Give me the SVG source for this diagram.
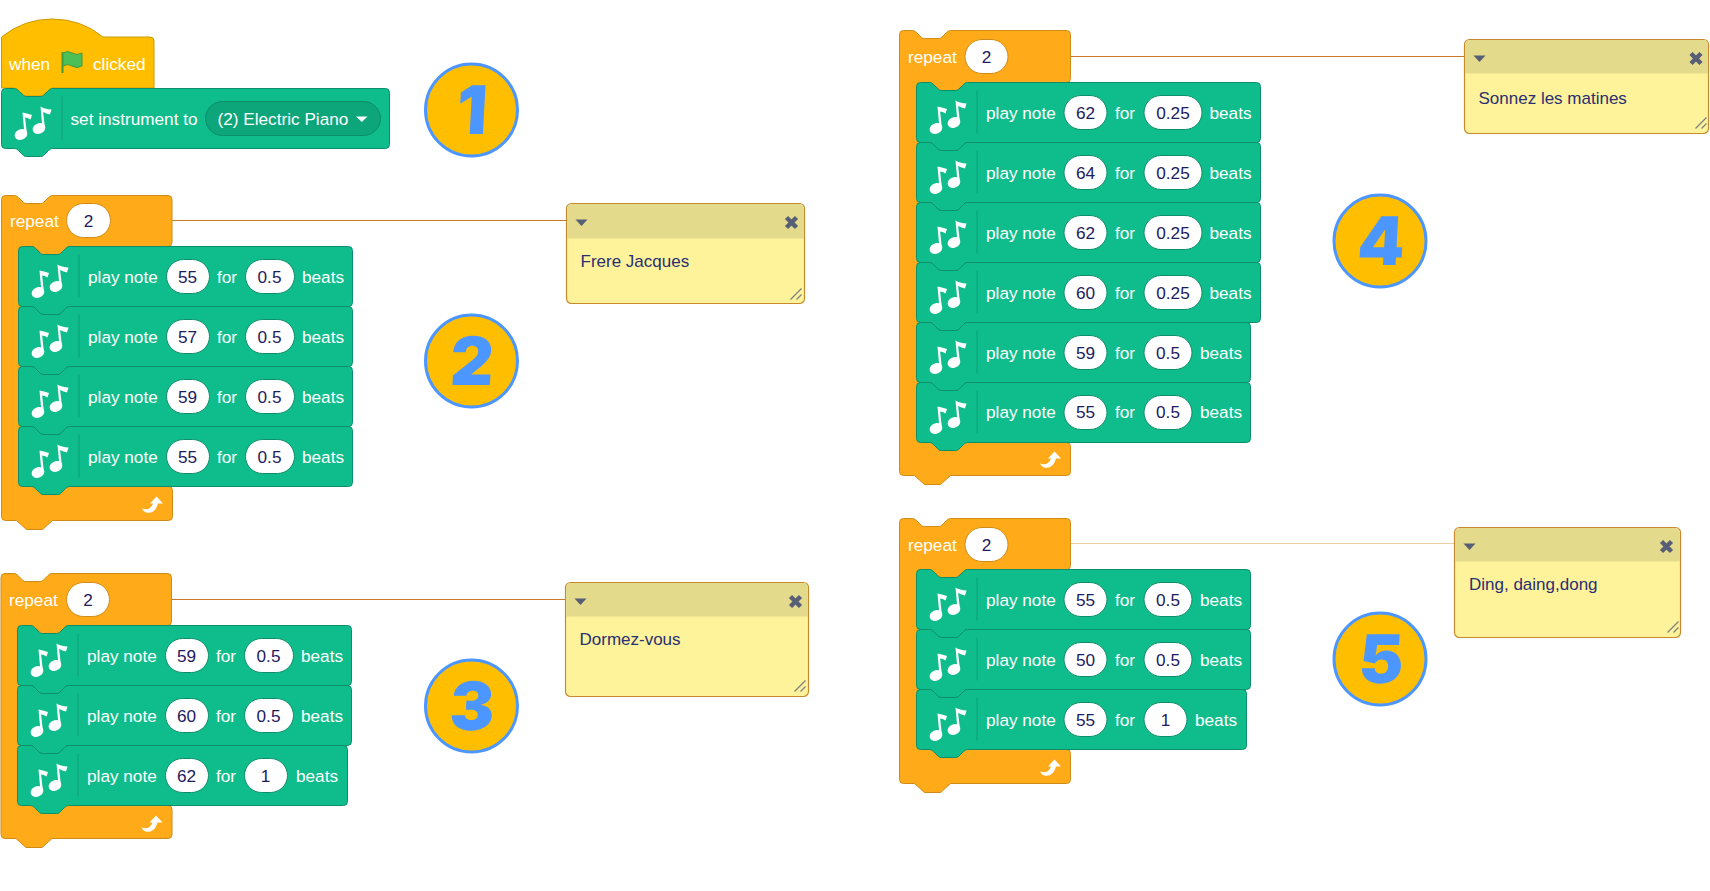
<svg xmlns="http://www.w3.org/2000/svg" width="1710" height="891" viewBox="0 0 1710 891">
<style>
text{font-family:"Liberation Sans",Arial,sans-serif}
.w{fill:#fff;font-size:17.2px}
.n{fill:#1d2060;font-size:17.2px;text-anchor:middle}
.g{fill:#0FBD8C;stroke:#0B8E69;stroke-width:1}
.o{fill:#FFAB19;stroke:#CF8B17;stroke-width:1}
.p{fill:#fff;stroke:#0B8E69;stroke-width:1}
.po{fill:#fff;stroke:#CF8B17;stroke-width:1}
.cb{fill:#FEF39A;stroke:#C98A2E;stroke-width:1.2}
.ch{fill:#E3DA8C}
.ct{fill:#2a2f72;font-size:17px}
.cm{fill:#575E75}
.cx{stroke:#575E75;stroke-width:4.5;fill:none}
.cr{stroke:#808080;stroke-width:1.3;fill:none}
.c{fill:#FFBF00;stroke:#4C97FF;stroke-width:3}
.d{fill:#4C97FF;font-family:Inter,"Liberation Sans",sans-serif;font-weight:900;font-size:67px;text-anchor:middle}
.l{stroke:#C87A28;stroke-width:1;fill:none}
</style>
<defs>
<path id="row334" class="g" d="M0,4 Q0,0 4,0 H13 Q15,0 17,2 L22,7 Q23,8 25,8 H39 Q41,8 42,7 L47,2 Q49,0 51,0 H330 Q334,0 334,4 V56 Q334,60 330,60 H51 Q49,60 47,62 L42,67 Q41,68 39,68 H25 Q23,68 22,67 L17,62 Q15,60 13,60 H4 Q0,60 0,56 Z"/>
<path id="row344" class="g" d="M0,4 Q0,0 4,0 H13 Q15,0 17,2 L22,7 Q23,8 25,8 H39 Q41,8 42,7 L47,2 Q49,0 51,0 H340 Q344,0 344,4 V56 Q344,60 340,60 H51 Q49,60 47,62 L42,67 Q41,68 39,68 H25 Q23,68 22,67 L17,62 Q15,60 13,60 H4 Q0,60 0,56 Z"/>
<path id="row330" class="g" d="M0,4 Q0,0 4,0 H13 Q15,0 17,2 L22,7 Q23,8 25,8 H39 Q41,8 42,7 L47,2 Q49,0 51,0 H326 Q330,0 330,4 V56 Q330,60 326,60 H51 Q49,60 47,62 L42,67 Q41,68 39,68 H25 Q23,68 22,67 L17,62 Q15,60 13,60 H4 Q0,60 0,56 Z"/>
<g id="notes">
<path d="M60.500,8 V51" stroke="#0C9E76" stroke-width="1" fill="none"/>
<g fill="#fff">
<ellipse cx="19.500" cy="46" rx="6.500" ry="5.200" transform="rotate(-22 19.500 46)"/>
<path d="M21,24 Q25,24.500 30.500,26.500 L29,31 Q26,29 23.600,29 L25.500,46 L23,46 Z"/>
<ellipse cx="37.500" cy="40" rx="6.500" ry="5.200" transform="rotate(-22 37.500 40)"/>
<path d="M39,18 Q43,20.500 50,21 L48.500,26 Q45,25 41.600,23.500 L43.500,40 L41,40 Z"/>
</g>
</g>
<path id="loop" fill="#fff" d="M-1,12 Q7,15 10,7 L7,7 L13.500,0 L20,7 L15,7 Q12,18 3,16 Q0,15 -1,12 Z"/>
<path id="cmark" class="cm" d="M0,0 H12 L6,6.500 Z"/>
</defs>

<g id="connectors">
<line class="l" x1="172" y1="220.500" x2="566" y2="220.500"/>
<line class="l" x1="172" y1="599.500" x2="565" y2="599.500"/>
<line class="l" x1="1071" y1="56.500" x2="1464" y2="56.500"/>
<line class="l" x1="1071" y1="543.500" x2="1454" y2="543.500" style="stroke:#EBCF9E"/>
</g>

<g id="stack1">
<g id="when-clicked">
<path d="M1.500,37 Q24,19 52,19 Q81,19 103,37 H150 Q154,37 154,41 V88 H52 L42,96 H25 L15,88 H1.500 Z" fill="#FFBF00" stroke="#CC9900" stroke-width="1"/>
<text class="w" x="9" y="70">when</text>
<path d="M62.500,52 V73" stroke="#45993D" stroke-width="2" fill="none"/>
<path d="M63,53 Q68,50 72,53 Q77,56 82,53 V66 Q77,69 72,66 Q68,63 63,66 Z" fill="#4CBF56" stroke="#45993D" stroke-width="1"/>
<text class="w" x="93" y="70">clicked</text>
</g>
<g id="set-instrument" transform="translate(1.500,88.500)">
<path class="g" d="M0,4 Q0,0 4,0 H13 Q15,0 17,2 L22,7 Q23,8 25,8 H39 Q41,8 42,7 L47,2 Q49,0 51,0 H384 Q388,0 388,4 V56 Q388,60 384,60 H51 Q49,60 47,62 L42,67 Q41,68 39,68 H25 Q23,68 22,67 L17,62 Q15,60 13,60 H4 Q0,60 0,56 Z"/>
<use href="#notes"/>
<text class="w" x="69" y="36">set instrument to</text>
<rect x="204" y="13" width="175" height="34" rx="17" fill="#0DA57A" stroke="#0B8E69"/>
<text class="w" x="216" y="36">(2) Electric Piano</text>
<path d="M354.500,28 H366 L360.300,33.500 Z" fill="#fff"/>
</g>
</g>

<g id="stack2">
<g id="repeat2" transform="translate(1.500,195.500)">
<path class="o" d="M0,4 Q0,0 4,0 H13 Q15,0 17,2 L22,7 Q23,8 25,8 H39 Q41,8 42,7 L47,2 Q49,0 51,0 H166.500 Q170.500,0 170.500,4 V47 Q170.500,51 166.500,51 H67.500 L57.500,59 H41.500 L32.500,51 H23 V291 H167 Q171,291 171,295 V321 Q171,325 167,325 H51 L41,334 H25 L15,325 H4 Q0,325 0,321 Z"/>
<text class="w" x="8.500" y="31.500">repeat</text>
<rect class="po" x="65" y="8" width="44" height="34" rx="17"/>
<text class="n" x="87" y="31">2</text>
<use href="#loop" x="141.500" y="301"/>
</g>
<g id="n2a" transform="translate(18.500,246.500)"><use href="#row334"/><use href="#notes"/><text class="w" x="69.500" y="36">play note</text><rect class="p" x="148" y="13" width="43" height="34" rx="17"/><text class="n" x="169" y="36">55</text><text class="w" x="198.500" y="36">for</text><rect class="p" x="227" y="13" width="49" height="34" rx="17"/><text class="n" x="251" y="36">0.5</text><text class="w" x="283.500" y="36">beats</text></g>
<g id="n2b" transform="translate(18.500,306.500)"><use href="#row334"/><use href="#notes"/><text class="w" x="69.500" y="36">play note</text><rect class="p" x="148" y="13" width="43" height="34" rx="17"/><text class="n" x="169" y="36">57</text><text class="w" x="198.500" y="36">for</text><rect class="p" x="227" y="13" width="49" height="34" rx="17"/><text class="n" x="251" y="36">0.5</text><text class="w" x="283.500" y="36">beats</text></g>
<g id="n2c" transform="translate(18.500,366.500)"><use href="#row334"/><use href="#notes"/><text class="w" x="69.500" y="36">play note</text><rect class="p" x="148" y="13" width="43" height="34" rx="17"/><text class="n" x="169" y="36">59</text><text class="w" x="198.500" y="36">for</text><rect class="p" x="227" y="13" width="49" height="34" rx="17"/><text class="n" x="251" y="36">0.5</text><text class="w" x="283.500" y="36">beats</text></g>
<g id="n2d" transform="translate(18.500,426.500)"><use href="#row334"/><use href="#notes"/><text class="w" x="69.500" y="36">play note</text><rect class="p" x="148" y="13" width="43" height="34" rx="17"/><text class="n" x="169" y="36">55</text><text class="w" x="198.500" y="36">for</text><rect class="p" x="227" y="13" width="49" height="34" rx="17"/><text class="n" x="251" y="36">0.5</text><text class="w" x="283.500" y="36">beats</text></g>
</g>

<g id="stack3">
<g id="repeat3" transform="translate(1,573.500)">
<path class="o" d="M0,4 Q0,0 4,0 H13 Q15,0 17,2 L22,7 Q23,8 25,8 H39 Q41,8 42,7 L47,2 Q49,0 51,0 H166.500 Q170.500,0 170.500,4 V48 Q170.500,52 166.500,52 H67 L57,60 H41 L32,52 H23 V232 H167 Q171,232 171,236 V261 Q171,265 167,265 H51 L41,274 H25 L15,265 H4 Q0,265 0,261 Z"/>
<text class="w" x="8" y="32">repeat</text>
<rect class="po" x="65.500" y="9" width="43" height="34" rx="17"/>
<text class="n" x="87" y="32">2</text>
<use href="#loop" x="141.500" y="242"/>
</g>
<g id="n3a" transform="translate(17.500,625.500)"><use href="#row334"/><use href="#notes"/><text class="w" x="69.500" y="36">play note</text><rect class="p" x="148" y="13" width="43" height="34" rx="17"/><text class="n" x="169" y="36">59</text><text class="w" x="198.500" y="36">for</text><rect class="p" x="227" y="13" width="49" height="34" rx="17"/><text class="n" x="251" y="36">0.5</text><text class="w" x="283.500" y="36">beats</text></g>
<g id="n3b" transform="translate(17.500,685.500)"><use href="#row334"/><use href="#notes"/><text class="w" x="69.500" y="36">play note</text><rect class="p" x="148" y="13" width="43" height="34" rx="17"/><text class="n" x="169" y="36">60</text><text class="w" x="198.500" y="36">for</text><rect class="p" x="227" y="13" width="49" height="34" rx="17"/><text class="n" x="251" y="36">0.5</text><text class="w" x="283.500" y="36">beats</text></g>
<g id="n3c" transform="translate(17.500,745.500)"><use href="#row330"/><use href="#notes"/><text class="w" x="69.500" y="36">play note</text><rect class="p" x="148" y="13" width="43" height="34" rx="17"/><text class="n" x="169" y="36">62</text><text class="w" x="198.500" y="36">for</text><rect class="p" x="227" y="13" width="43" height="34" rx="17"/><text class="n" x="248" y="36">1</text><text class="w" x="278.500" y="36">beats</text></g>
</g>

<g id="stack4">
<g id="repeat4" transform="translate(899.500,30.500)">
<path class="o" d="M0,4 Q0,0 4,0 H13 Q15,0 17,2 L22,7 Q23,8 25,8 H39 Q41,8 42,7 L47,2 Q49,0 51,0 H167 Q171,0 171,4 V48 Q171,52 167,52 H67 L57,60 H41 L32,52 H23 V412 H167 Q171,412 171,416 V441 Q171,445 167,445 H51 L41,454 H25 L15,445 H4 Q0,445 0,441 Z"/>
<text class="w" x="8.500" y="32">repeat</text>
<rect class="po" x="65.500" y="9" width="43" height="34" rx="17"/>
<text class="n" x="87" y="32">2</text>
<use href="#loop" x="141.500" y="421"/>
</g>
<g id="n4a" transform="translate(916.500,82.500)"><use href="#row344"/><use href="#notes"/><text class="w" x="69.500" y="36">play note</text><rect class="p" x="147.500" y="13" width="43" height="34" rx="17"/><text class="n" x="169" y="36">62</text><text class="w" x="198.500" y="36">for</text><rect class="p" x="227.500" y="13" width="58" height="34" rx="17"/><text class="n" x="256.500" y="36">0.25</text><text class="w" x="293" y="36">beats</text></g>
<g id="n4b" transform="translate(916.500,142.500)"><use href="#row344"/><use href="#notes"/><text class="w" x="69.500" y="36">play note</text><rect class="p" x="147.500" y="13" width="43" height="34" rx="17"/><text class="n" x="169" y="36">64</text><text class="w" x="198.500" y="36">for</text><rect class="p" x="227.500" y="13" width="58" height="34" rx="17"/><text class="n" x="256.500" y="36">0.25</text><text class="w" x="293" y="36">beats</text></g>
<g id="n4c" transform="translate(916.500,202.500)"><use href="#row344"/><use href="#notes"/><text class="w" x="69.500" y="36">play note</text><rect class="p" x="147.500" y="13" width="43" height="34" rx="17"/><text class="n" x="169" y="36">62</text><text class="w" x="198.500" y="36">for</text><rect class="p" x="227.500" y="13" width="58" height="34" rx="17"/><text class="n" x="256.500" y="36">0.25</text><text class="w" x="293" y="36">beats</text></g>
<g id="n4d" transform="translate(916.500,262.500)"><use href="#row344"/><use href="#notes"/><text class="w" x="69.500" y="36">play note</text><rect class="p" x="147.500" y="13" width="43" height="34" rx="17"/><text class="n" x="169" y="36">60</text><text class="w" x="198.500" y="36">for</text><rect class="p" x="227.500" y="13" width="58" height="34" rx="17"/><text class="n" x="256.500" y="36">0.25</text><text class="w" x="293" y="36">beats</text></g>
<g id="n4e" transform="translate(916.500,322.500)"><use href="#row334"/><use href="#notes"/><text class="w" x="69.500" y="36">play note</text><rect class="p" x="147.500" y="13" width="43" height="34" rx="17"/><text class="n" x="169" y="36">59</text><text class="w" x="198.500" y="36">for</text><rect class="p" x="227.500" y="13" width="48" height="34" rx="17"/><text class="n" x="251.500" y="36">0.5</text><text class="w" x="283.500" y="36">beats</text></g>
<g id="n4f" transform="translate(916.500,382.500)"><use href="#row334"/><use href="#notes"/><text class="w" x="69.500" y="35.500">play note</text><rect class="p" x="147.500" y="13" width="43" height="34" rx="17"/><text class="n" x="169" y="35.500">55</text><text class="w" x="198.500" y="35.500">for</text><rect class="p" x="227.500" y="13" width="48" height="34" rx="17"/><text class="n" x="251.500" y="35.500">0.5</text><text class="w" x="283.500" y="35.500">beats</text></g>
</g>

<g id="stack5">
<g id="repeat5" transform="translate(899.500,518.500)">
<path class="o" d="M0,4 Q0,0 4,0 H13 Q15,0 17,2 L22,7 Q23,8 25,8 H39 Q41,8 42,7 L47,2 Q49,0 51,0 H167 Q171,0 171,4 V47 Q171,51 167,51 H66.500 L56.500,59 H40.500 L31.500,51 H23 V231 H167 Q171,231 171,235 V261 Q171,265 167,265 H51 L41,274 H25 L15,265 H4 Q0,265 0,261 Z"/>
<text class="w" x="8.500" y="32">repeat</text>
<rect class="po" x="65.500" y="9" width="43" height="34" rx="17"/>
<text class="n" x="87" y="32">2</text>
<use href="#loop" x="141.500" y="241"/>
</g>
<g id="n5a" transform="translate(916.500,569.500)"><use href="#row334"/><use href="#notes"/><text class="w" x="69.500" y="36">play note</text><rect class="p" x="147.500" y="13" width="43" height="34" rx="17"/><text class="n" x="169" y="36">55</text><text class="w" x="198.500" y="36">for</text><rect class="p" x="227.500" y="13" width="48" height="34" rx="17"/><text class="n" x="251.500" y="36">0.5</text><text class="w" x="283.500" y="36">beats</text></g>
<g id="n5b" transform="translate(916.500,629.500)"><use href="#row334"/><use href="#notes"/><text class="w" x="69.500" y="36">play note</text><rect class="p" x="147.500" y="13" width="43" height="34" rx="17"/><text class="n" x="169" y="36">50</text><text class="w" x="198.500" y="36">for</text><rect class="p" x="227.500" y="13" width="48" height="34" rx="17"/><text class="n" x="251.500" y="36">0.5</text><text class="w" x="283.500" y="36">beats</text></g>
<g id="n5c" transform="translate(916.500,689.500)"><use href="#row330"/><use href="#notes"/><text class="w" x="69.500" y="36">play note</text><rect class="p" x="147.500" y="13" width="43" height="34" rx="17"/><text class="n" x="169" y="36">55</text><text class="w" x="198.500" y="36">for</text><rect class="p" x="227.500" y="13" width="43" height="34" rx="17"/><text class="n" x="249" y="36">1</text><text class="w" x="278.500" y="36">beats</text></g>
</g>

<g id="comment-frere" transform="translate(566.500,203.500)">
<rect class="cb" width="238" height="100" rx="5"/>
<path class="ch" d="M.6,5 Q.6,.6 5,.6 H233 Q237.400,.6 237.400,5 V35 H.6 Z"/>
<use href="#cmark" x="9" y="16"/>
<path class="cx" d="M220,14 L230,24 M230,14 L220,24"/>
<text class="ct" x="14" y="63.500">Frere Jacques</text>
<path class="cr" d="M224,96 L235,85 M230,96 L235,91"/>
</g>
<g id="comment-dormez" transform="translate(565.500,582.500)">
<rect class="cb" width="243" height="114" rx="5"/>
<path class="ch" d="M.6,5 Q.6,.6 5,.6 H238 Q242.400,.6 242.400,5 V34 H.6 Z"/>
<use href="#cmark" x="9" y="16"/>
<path class="cx" d="M225,14 L235,24 M235,14 L225,24"/>
<text class="ct" x="14" y="62.500">Dormez-vous</text>
<path class="cr" d="M229,109 L240,98 M235,109 L240,104"/>
</g>
<g id="comment-sonnez" transform="translate(1464.500,39.500)">
<rect class="cb" width="244" height="94" rx="5"/>
<path class="ch" d="M.6,5 Q.6,.6 5,.6 H239 Q243.400,.6 243.400,5 V34 H.6 Z"/>
<use href="#cmark" x="9" y="16"/>
<path class="cx" d="M226.500,14 L236.500,24 M236.500,14 L226.500,24"/>
<text class="ct" x="14" y="64">Sonnez les matines</text>
<path class="cr" d="M231,89 L242,78 M237,89 L242,84"/>
</g>
<g id="comment-ding" transform="translate(1454.500,527.500)">
<rect class="cb" width="226" height="110" rx="5"/>
<path class="ch" d="M.6,5 Q.6,.6 5,.6 H221 Q225.400,.6 225.400,5 V34 H.6 Z"/>
<use href="#cmark" x="9" y="16"/>
<path class="cx" d="M207,14 L217,24 M217,14 L207,24"/>
<text class="ct" x="14.500" y="62.500">Ding, daing,dong</text>
<path class="cr" d="M213,105 L224,94 M219,105 L224,100"/>
</g>

<g id="badge1"><circle class="c" cx="471.500" cy="110" r="46"/><text class="d" transform="translate(471,134) skewX(-3)">1</text></g>
<g id="badge2"><circle class="c" cx="471.500" cy="361" r="46"/><text class="d" transform="translate(471,385) skewX(-3)">2</text></g>
<g id="badge3"><circle class="c" cx="471.500" cy="706" r="46"/><text class="d" transform="translate(471,730) skewX(-3)">3</text></g>
<g id="badge4"><circle class="c" cx="1380" cy="241" r="46"/><text class="d" transform="translate(1380,265) skewX(-3)">4</text></g>
<g id="badge5"><circle class="c" cx="1380" cy="659" r="46"/><text class="d" transform="translate(1380,683) skewX(-3)">5</text></g>
</svg>
